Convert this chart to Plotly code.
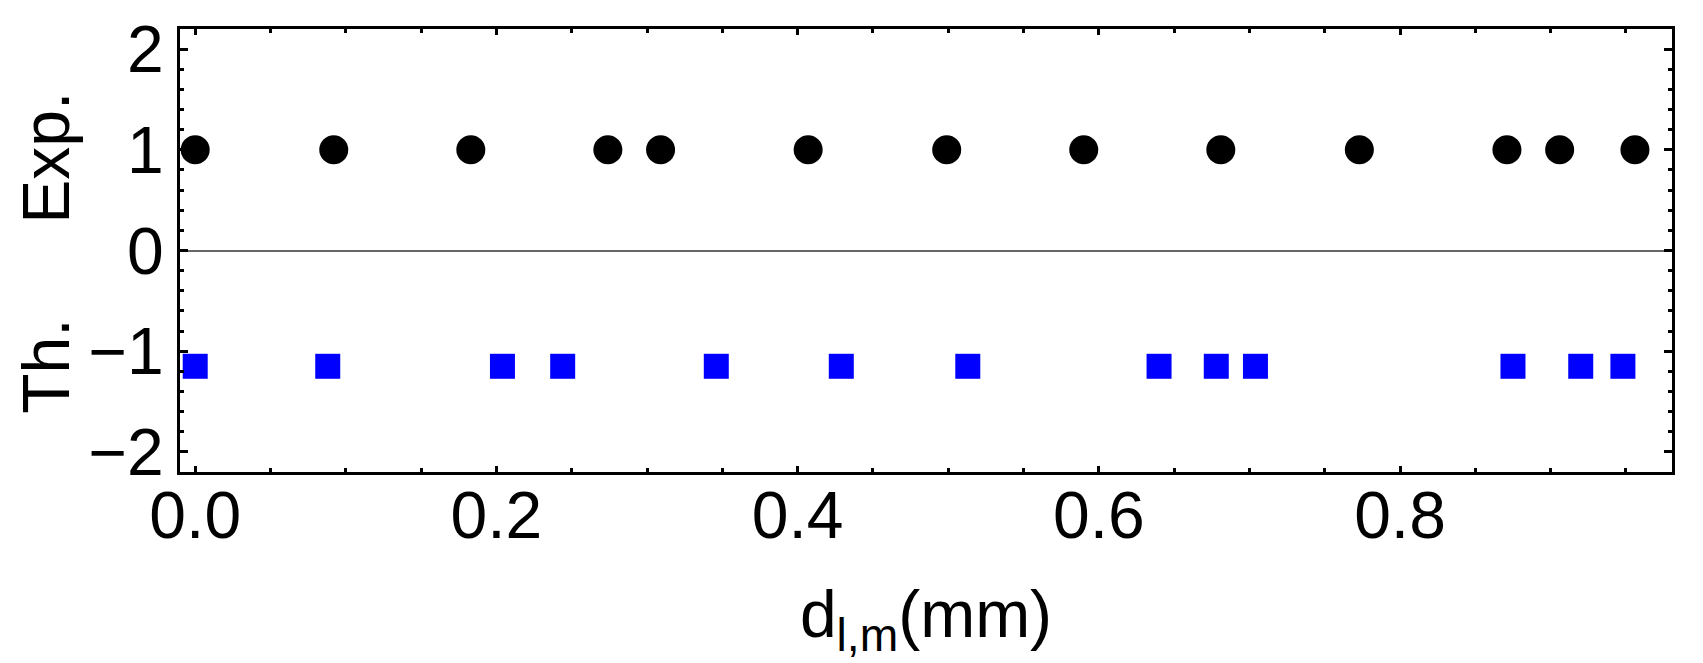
import plotly.graph_objects as go

# Data
exp_x = [0.0, 0.092, 0.183, 0.274, 0.309, 0.407, 0.499, 0.590, 0.681, 0.773, 0.871, 0.906, 0.956]
exp_y = [1.0] * len(exp_x)
th_x = [0.0, 0.088, 0.204, 0.244, 0.346, 0.429, 0.513, 0.640, 0.678, 0.704, 0.875, 0.920, 0.948]
th_y = [-1.15] * len(th_x)

x_ticks = [0.0, 0.2, 0.4, 0.6, 0.8]
x_ticklabels = ["0.0", "0.2", "0.4", "0.6", "0.8"]
y_ticks = [-2, -1, 0, 1, 2]
y_ticklabels = ["\u22122", "\u22121", "0", "1", "2"]

FONT = "Liberation Sans, Arial, Helvetica, sans-serif"
FS = 66

fig = go.Figure()
fig.add_trace(go.Scatter(
    x=exp_x, y=exp_y, mode="markers",
    marker=dict(symbol="circle", size=29, color="black", line=dict(width=0)),
    showlegend=False,
))
fig.add_trace(go.Scatter(
    x=th_x, y=th_y, mode="markers",
    marker=dict(symbol="square", size=25, color="#0000FF", line=dict(width=0)),
    showlegend=False,
))

fig.update_layout(
    width=1703, height=663,
    margin=dict(l=180, r=31, t=25, b=191),
    paper_bgcolor="white", plot_bgcolor="white",
    font=dict(family=FONT, size=FS, color="black"),
    xaxis=dict(
        range=[-0.0101, 0.9806],
        tickvals=x_ticks, ticktext=x_ticklabels,
        ticks="inside", ticklen=6, tickwidth=3, tickcolor="black",
        minor=dict(ticks="inside", dtick=0.05, tick0=0, ticklen=4, tickwidth=2.5, tickcolor="black"),
        showline=True, linewidth=3, linecolor="black", mirror="ticks",
        showgrid=False, zeroline=False,
        tickfont=dict(family=FONT, size=FS),
        ticklabelstandoff=-16,
        title=dict(text="d<sub>l,m</sub>(mm)", font=dict(family=FONT, size=FS), standoff=40),
    ),
    yaxis=dict(
        range=[-2.2, 2.2],
        tickvals=y_ticks, ticktext=y_ticklabels,
        ticks="inside", ticklen=8, tickwidth=3, tickcolor="black",
        minor=dict(ticks="inside", dtick=0.2, tick0=0, ticklen=4, tickwidth=2.5, tickcolor="black"),
        showline=True, linewidth=3, linecolor="black", mirror="ticks",
        showgrid=False, zeroline=True, zerolinecolor="#666666", zerolinewidth=2,
        tickfont=dict(family=FONT, size=FS),
    ),
    annotations=[
        dict(text="Exp.", x=-0.0895, y=0.925, xref="paper", yref="y",
             textangle=-90, showarrow=False, xanchor="center", yanchor="middle",
             font=dict(family=FONT, size=FS)),
        dict(text="Th.", x=-0.0895, y=-1.15, xref="paper", yref="y",
             textangle=-90, showarrow=False, xanchor="center", yanchor="middle",
             font=dict(family=FONT, size=FS)),
    ],
)

fig.write_html("out.html")
